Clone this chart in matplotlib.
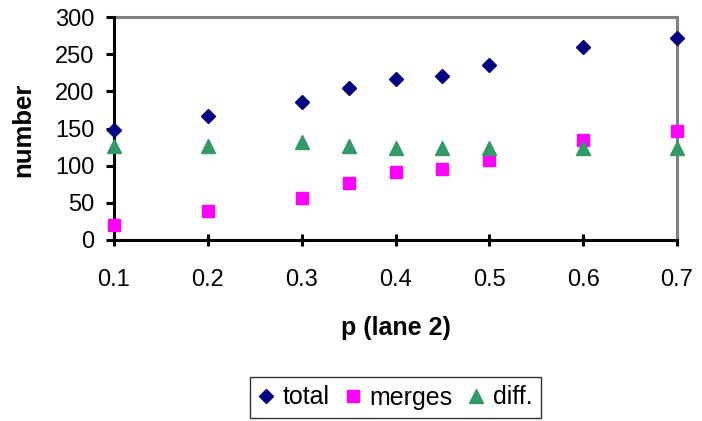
import matplotlib
matplotlib.use("Agg")
import matplotlib.pyplot as plt

plt.rcParams['font.family'] = ['Liberation Sans', 'DejaVu Sans']

# Probability for lane 2
p_values = [0.1, 0.2, 0.3, 0.35, 0.4, 0.45, 0.5, 0.6, 0.7]
total = [148, 167, 186, 205, 216, 221, 235, 259, 272]
merges = [20, 39, 56, 77, 91, 96, 108, 134, 147]
diff = [126, 127, 132, 127, 124, 124, 124, 124, 124]

x_ticks = [0.1, 0.2, 0.3, 0.4, 0.5, 0.6, 0.7]
x_tick_labels = ["0.1", "0.2", "0.3", "0.4", "0.5", "0.6", "0.7"]
y_ticks = [0, 50, 100, 150, 200, 250, 300]

W, H = 702, 421
fig = plt.figure(figsize=(W / 100, H / 100), dpi=100)
ax = fig.add_axes([114 / W, 1 - 240 / H, 563 / W, 223 / H])

ax.plot(p_values, total, linestyle='none', marker='D', markersize=6.8,
        color='#000080', label='total', clip_on=False, zorder=3)
ax.plot(p_values, merges, linestyle='none', marker='s', markersize=8.6,
        color='#FF00FF', label='merges', clip_on=False, zorder=3)
ax.plot(p_values, diff, linestyle='none', marker='^', markersize=10.5,
        color='#339966', label='diff.', clip_on=False, zorder=3)

ax.set_xlim(0.1, 0.7)
ax.set_ylim(0, 300)
ax.set_xticks(x_ticks)
ax.set_xticklabels(x_tick_labels)
ax.set_yticks(y_ticks)

for side in ('left', 'bottom'):
    ax.spines[side].set_color('black')
    ax.spines[side].set_linewidth(2.2)
for side in ('top', 'right'):
    ax.spines[side].set_color('#808080')
    ax.spines[side].set_linewidth(2.2)
ax.spines['bottom'].set_zorder(2.6)
ax.spines['left'].set_zorder(2.6)

ax.tick_params(axis='y', direction='out', length=6, width=2.2, pad=8,
               labelsize=17)
ax.tick_params(axis='x', direction='inout', length=9, width=2.2, pad=16.5,
               labelsize=17)

fig.text(396 / W, 1 - 328 / H, 'p (lane 2)', ha='center', va='center',
         fontsize=18, fontweight='bold')
fig.text(23 / W, 1 - 130 / H, 'number', ha='center', va='center',
         rotation=90, fontsize=18.5, fontweight='bold')

leg = fig.legend(loc='center', bbox_to_anchor=(395.5 / W, 1 - 397.5 / H),
                 ncol=3, fontsize=18, frameon=True, fancybox=False,
                 handlelength=0.6, handletextpad=0.35, columnspacing=0.65,
                 borderpad=0.35, borderaxespad=0)
leg.get_frame().set_edgecolor('black')
leg.get_frame().set_linewidth(1.0)

fig.savefig('out.png', dpi=100)
